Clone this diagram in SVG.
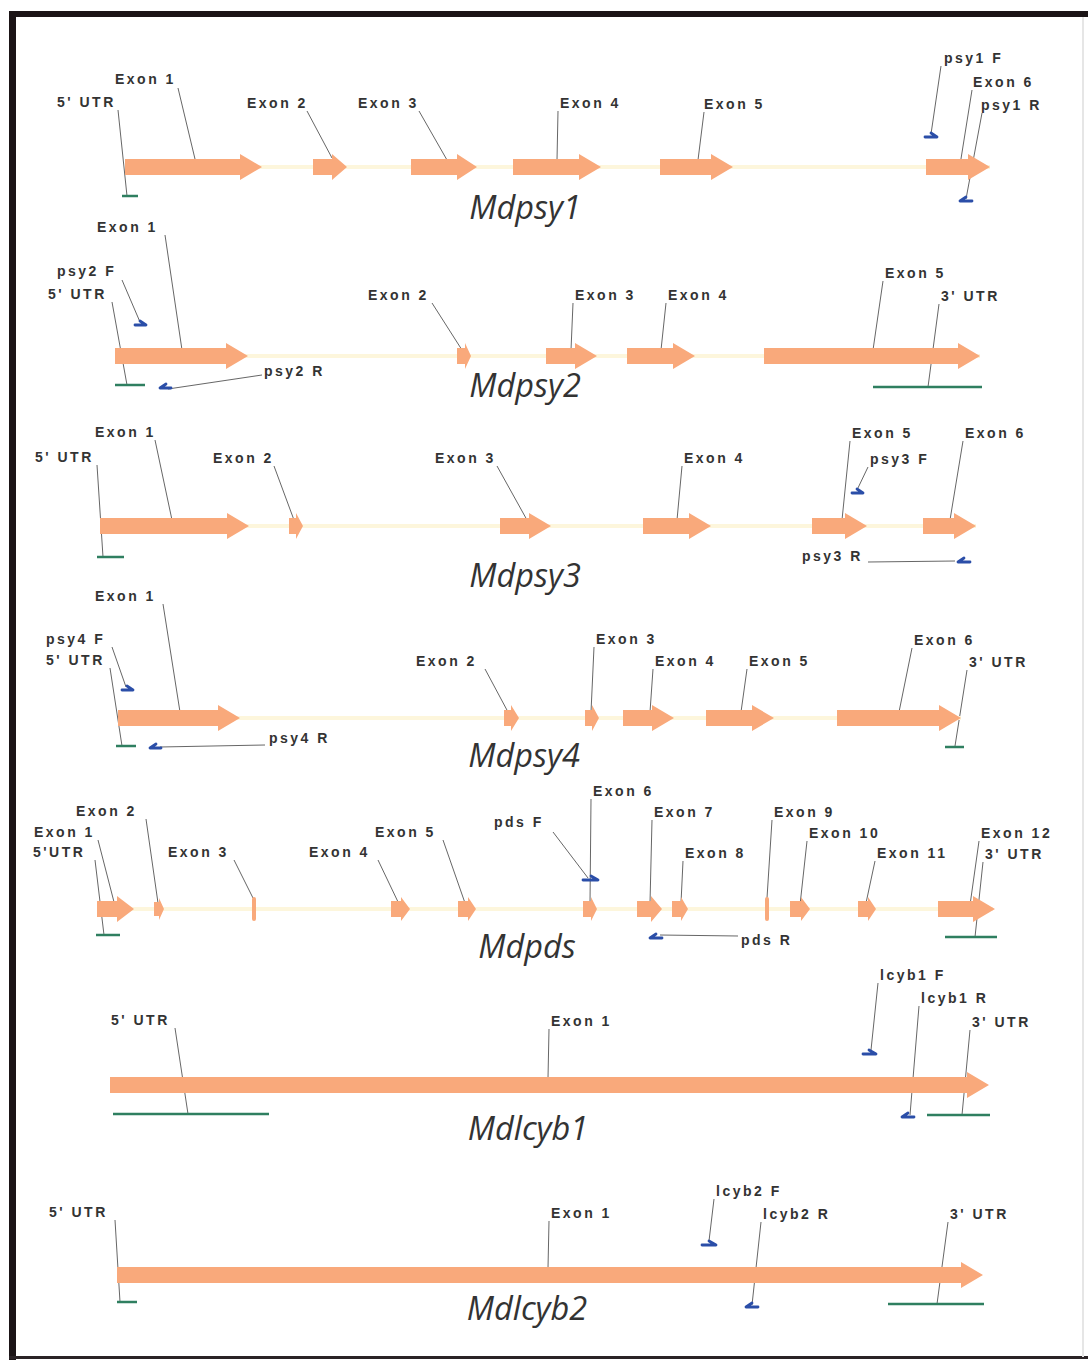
<svg xmlns="http://www.w3.org/2000/svg" width="1088" height="1361" viewBox="0 0 1088 1361">
<style>
.lb{font-family:"Liberation Sans",Arial,sans-serif;font-weight:bold;font-size:14px;letter-spacing:2.5px;fill:#333}
.tt{font-family:"Open Sans","Noto Sans",sans-serif;font-style:italic;font-size:32.5px;fill:#333;text-anchor:middle}
.ex{fill:#f9a97b}
.in{fill:#fdf6dc}
.ut{stroke:#2f7f60;stroke-width:2.5;fill:none}
.pr{stroke:#2b4ea8;stroke-width:2.8;fill:none;stroke-linecap:round;stroke-linejoin:round}
.ld{stroke:#555;stroke-width:0.9;fill:none}
</style>
<rect x="0" y="0" width="1088" height="1361" fill="#fff"/>
<g id="frame">
<rect x="9" y="11" width="7" height="1349" fill="#1b1416"/>
<rect x="9" y="11" width="1079" height="6" fill="#1b1416"/>
<rect x="9" y="1356" width="1079" height="3" fill="#2a2326"/>
<rect x="1082" y="17" width="2" height="1340" fill="#e6e6e6"/>
</g>
<g id="connectors">
<path class="ld" d="M118,110L127,196M178,88L195,159M307,111L332,158M419,111L447,160M558,111L557,160M704,112L698,160M941,66L931,134M972,90L960,165M982,113L966,199"/>
<path class="ld" d="M165,235L182,350M122,280L140,322M112,302L127,385M262,375L168,389M432,303L462,350M573,303L571,350M666,303L661,350M883,281L873,350M939,304L928,387"/>
<path class="ld" d="M97,465L103,557M155,440L172,520M274,466L294,520M497,466L527,520M682,466L677,520M850,441L842,520M868,467L857,490M963,441L950,520M868,562L955,561"/>
<path class="ld" d="M163,604L180,712M112,647L126,687M110,668L122,746M265,745L160,747M485,669L508,712M594,647L591,712M653,669L650,712M747,669L741,712M912,648L899,712M967,670L955,746"/>
<path class="ld" d="M98,840L114,902M95,860L104,935M146,819L158,903M234,860L253,898M378,860L399,904M443,840L465,903M553,832L588,878M591,799L590,903M652,820L650,903M683,861L681,903M738,936L660,935M772,820L767,898M807,841L800,905M875,861L866,903M979,841L970,905M983,862L975,937"/>
<path class="ld" d="M175,1028L188,1114M549,1029L548,1078M878,983L871,1050M919,1006L910,1115M970,1030L962,1115"/>
<path class="ld" d="M115,1220L120,1302M549,1221L548,1268M714,1199L709,1241M761,1222L752,1305M948,1222L937,1304"/>
</g>
<g id="Mdpsy1">
<rect class="in" x="125" y="165" width="865" height="4"/>
<path class="ex" d="M125,159H240V154L262,167L240,180V175H125Z"/>
<path class="ex" d="M313,159H332V154L347,167L332,180V175H313Z"/>
<path class="ex" d="M411,159H457V154L477,167L457,180V175H411Z"/>
<path class="ex" d="M513,159H579V154L601,167L579,180V175H513Z"/>
<path class="ex" d="M660,159H711V154L733,167L711,180V175H660Z"/>
<path class="ex" d="M926,159H968V154L990,167L968,180V175H926Z"/>
<line class="ut" x1="122" y1="196" x2="138" y2="196"/>
<path class="pr" d="M925,137H937L931,133"/>
<path class="pr" d="M972,201H960L966,197"/>
<text class="lb" x="115" y="84">Exon 1</text>
<text class="lb" x="57" y="107">5' UTR</text>
<text class="lb" x="247" y="108">Exon 2</text>
<text class="lb" x="358" y="108">Exon 3</text>
<text class="lb" x="560" y="108">Exon 4</text>
<text class="lb" x="704" y="109">Exon 5</text>
<text class="lb" x="944" y="63">psy1 F</text>
<text class="lb" x="973" y="87">Exon 6</text>
<text class="lb" x="981" y="110">psy1 R</text>
<text class="tt" x="525" y="219">Mdpsy1</text>
</g>
<g id="Mdpsy2">
<rect class="in" x="115" y="354" width="865" height="4"/>
<path class="ex" d="M115,348H226V343L248,356L226,369V364H115Z"/>
<path class="ex" d="M457,348H465V343L471,356L465,369V364H457Z"/>
<path class="ex" d="M546,348H575V343L597,356L575,369V364H546Z"/>
<path class="ex" d="M627,348H673V343L695,356L673,369V364H627Z"/>
<path class="ex" d="M764,348H958V343L980,356L958,369V364H764Z"/>
<line class="ut" x1="115" y1="385" x2="145" y2="385"/>
<line class="ut" x1="873" y1="387" x2="982" y2="387"/>
<path class="pr" d="M135,325H146L140,321"/>
<path class="pr" d="M171,388H160L166,384"/>
<text class="lb" x="97" y="232">Exon 1</text>
<text class="lb" x="57" y="276">psy2 F</text>
<text class="lb" x="48" y="299">5' UTR</text>
<text class="lb" x="368" y="300">Exon 2</text>
<text class="lb" x="575" y="300">Exon 3</text>
<text class="lb" x="668" y="300">Exon 4</text>
<text class="lb" x="885" y="278">Exon 5</text>
<text class="lb" x="941" y="301">3' UTR</text>
<text class="lb" x="264" y="376">psy2 R</text>
<text class="tt" x="525" y="397">Mdpsy2</text>
</g>
<g id="Mdpsy3">
<rect class="in" x="100" y="524" width="876" height="4"/>
<path class="ex" d="M100,518H227V513L249,526L227,539V534H100Z"/>
<path class="ex" d="M289,518H296V513L303,526L296,539V534H289Z"/>
<path class="ex" d="M500,518H529V513L551,526L529,539V534H500Z"/>
<path class="ex" d="M643,518H689V513L711,526L689,539V534H643Z"/>
<path class="ex" d="M812,518H845V513L867,526L845,539V534H812Z"/>
<path class="ex" d="M923,518H954V513L976,526L954,539V534H923Z"/>
<line class="ut" x1="97" y1="557" x2="124" y2="557"/>
<path class="pr" d="M852,493H863L857,489"/>
<path class="pr" d="M970,562H958L964,558"/>
<text class="lb" x="95" y="437">Exon 1</text>
<text class="lb" x="35" y="462">5' UTR</text>
<text class="lb" x="213" y="463">Exon 2</text>
<text class="lb" x="435" y="463">Exon 3</text>
<text class="lb" x="684" y="463">Exon 4</text>
<text class="lb" x="852" y="438">Exon 5</text>
<text class="lb" x="870" y="464">psy3 F</text>
<text class="lb" x="965" y="438">Exon 6</text>
<text class="lb" x="802" y="561">psy3 R</text>
<text class="tt" x="525" y="587">Mdpsy3</text>
</g>
<g id="Mdpsy4">
<rect class="in" x="118" y="716" width="843" height="4"/>
<path class="ex" d="M118,710H218V705L240,718L218,731V726H118Z"/>
<path class="ex" d="M504,710H511V705L519,718L511,731V726H504Z"/>
<path class="ex" d="M585,710H592V705L599,718L592,731V726H585Z"/>
<path class="ex" d="M623,710H652V705L674,718L652,731V726H623Z"/>
<path class="ex" d="M706,710H752V705L774,718L752,731V726H706Z"/>
<path class="ex" d="M837,710H939V705L961,718L939,731V726H837Z"/>
<line class="ut" x1="116" y1="746" x2="136" y2="746"/>
<line class="ut" x1="945" y1="747" x2="964" y2="747"/>
<path class="pr" d="M122,690H133L127,686"/>
<path class="pr" d="M161,748H150L156,744"/>
<text class="lb" x="95" y="601">Exon 1</text>
<text class="lb" x="46" y="644">psy4 F</text>
<text class="lb" x="46" y="665">5' UTR</text>
<text class="lb" x="416" y="666">Exon 2</text>
<text class="lb" x="596" y="644">Exon 3</text>
<text class="lb" x="655" y="666">Exon 4</text>
<text class="lb" x="749" y="666">Exon 5</text>
<text class="lb" x="914" y="645">Exon 6</text>
<text class="lb" x="969" y="667">3' UTR</text>
<text class="lb" x="269" y="743">psy4 R</text>
<text class="tt" x="524" y="767">Mdpsy4</text>
</g>
<g id="Mdpds">
<rect class="in" x="97" y="907" width="896" height="4"/>
<path class="ex" d="M97,901H117V896L134,909L117,922V917H97Z"/>
<path class="ex" d="M154,902H159V898L164,909L159,920V916H154Z"/>
<rect class="ex" x="252" y="897" width="4" height="24" rx="2"/>
<path class="ex" d="M391,901H401V897L410,909L401,921V917H391Z"/>
<path class="ex" d="M458,901H468V897L476,909L468,921V917H458Z"/>
<path class="ex" d="M583,901H591V897L597,909L591,921V917H583Z"/>
<path class="ex" d="M637,901H651V896L662,909L651,922V917H637Z"/>
<path class="ex" d="M672,901H681V897L688,909L681,921V917H672Z"/>
<rect class="ex" x="765" y="897" width="4" height="24" rx="2"/>
<path class="ex" d="M790,901H801V897L810,909L801,921V917H790Z"/>
<path class="ex" d="M858,901H868V897L876,909L868,921V917H858Z"/>
<path class="ex" d="M938,901H973V896L995,909L973,922V917H938Z"/>
<line class="ut" x1="96" y1="935" x2="120" y2="935"/>
<line class="ut" x1="945" y1="937" x2="997" y2="937"/>
<path class="pr" d="M583,880H598L591,876"/>
<path class="pr" d="M662,938H650L656,934"/>
<text class="lb" x="593" y="796">Exon 6</text>
<text class="lb" x="76" y="816">Exon 2</text>
<text class="lb" x="654" y="817">Exon 7</text>
<text class="lb" x="774" y="817">Exon 9</text>
<text class="lb" x="494" y="827">pds F</text>
<text class="lb" x="34" y="837">Exon 1</text>
<text class="lb" x="375" y="837">Exon 5</text>
<text class="lb" x="809" y="838">Exon 10</text>
<text class="lb" x="981" y="838">Exon 12</text>
<text class="lb" x="33" y="857">5'UTR</text>
<text class="lb" x="168" y="857">Exon 3</text>
<text class="lb" x="309" y="857">Exon 4</text>
<text class="lb" x="685" y="858">Exon 8</text>
<text class="lb" x="877" y="858">Exon 11</text>
<text class="lb" x="985" y="859">3' UTR</text>
<text class="lb" x="741" y="945">pds R</text>
<text class="tt" x="527" y="958">Mdpds</text>
</g>
<g id="Mdlcyb1">
<path class="ex" d="M110,1077H967V1072L989,1085L967,1098V1093H110Z"/>
<line class="ut" x1="113" y1="1114" x2="269" y2="1114"/>
<line class="ut" x1="927" y1="1115" x2="990" y2="1115"/>
<path class="pr" d="M863,1054H876L869,1050"/>
<path class="pr" d="M914,1117H902L908,1113"/>
<text class="lb" x="880" y="980">lcyb1 F</text>
<text class="lb" x="921" y="1003">lcyb1 R</text>
<text class="lb" x="111" y="1025">5' UTR</text>
<text class="lb" x="551" y="1026">Exon 1</text>
<text class="lb" x="972" y="1027">3' UTR</text>
<text class="tt" x="528" y="1140">Mdlcyb1</text>
</g>
<g id="Mdlcyb2">
<path class="ex" d="M117,1267H961V1262L983,1275L961,1288V1283H117Z"/>
<line class="ut" x1="117" y1="1302" x2="137" y2="1302"/>
<line class="ut" x1="888" y1="1304" x2="984" y2="1304"/>
<path class="pr" d="M702,1245H716L709,1241"/>
<path class="pr" d="M758,1307H746L752,1303"/>
<text class="lb" x="716" y="1196">lcyb2 F</text>
<text class="lb" x="49" y="1217">5' UTR</text>
<text class="lb" x="551" y="1218">Exon 1</text>
<text class="lb" x="763" y="1219">lcyb2 R</text>
<text class="lb" x="950" y="1219">3' UTR</text>
<text class="tt" x="527" y="1320">Mdlcyb2</text>
</g>
</svg>
